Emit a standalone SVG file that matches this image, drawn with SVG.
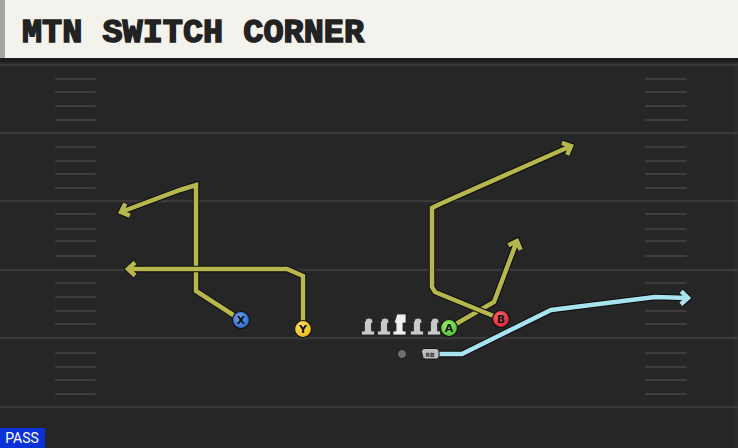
<svg xmlns="http://www.w3.org/2000/svg" width="738" height="448" viewBox="0 0 738 448">
<defs>
<style>
.fl{stroke:#393939;stroke-width:2.5}
.hs{stroke:#3e3e3e;stroke-width:2;stroke-linecap:round}
.ro{fill:none;stroke:#0d0d0d;stroke-width:6.5;stroke-linejoin:miter;stroke-linecap:butt}
.ry{fill:none;stroke:#b6b84e;stroke-width:4.5;stroke-linejoin:miter;stroke-linecap:butt}
.rb{fill:none;stroke:#a9e3ef;stroke-width:4.5;stroke-linejoin:miter;stroke-linecap:butt}
.pl{stroke:#111;stroke-width:1.2}
.pt{font-family:"DejaVu Sans",sans-serif;font-weight:bold;font-size:11px;fill:#111;text-anchor:middle}
.ln{fill:#c9c9c9;stroke:#222;stroke-width:0.8}
</style>
<marker id="mo" markerUnits="userSpaceOnUse" orient="auto" markerWidth="20" markerHeight="20" refX="0" refY="0" style="overflow:visible">
<path d="M-7,-6.5 L0,0 L-7,6.5" fill="none" stroke="#0d0d0d" stroke-width="6.5"/>
</marker>
<marker id="my" markerUnits="userSpaceOnUse" orient="auto" markerWidth="20" markerHeight="20" refX="0" refY="0" style="overflow:visible">
<path d="M-7,-6.5 L0,0 L-7,6.5" fill="none" stroke="#b6b84e" stroke-width="4.5"/>
</marker>
<marker id="mb" markerUnits="userSpaceOnUse" orient="auto" markerWidth="20" markerHeight="20" refX="0" refY="0" style="overflow:visible">
<path d="M-7,-6.5 L0,0 L-7,6.5" fill="none" stroke="#a9e3ef" stroke-width="4.5"/>
</marker>
<radialGradient id="gx" cx="0.4" cy="0.35" r="0.7"><stop offset="0" stop-color="#6aa2f0"/><stop offset="1" stop-color="#2f63c8"/></radialGradient>
<radialGradient id="gy" cx="0.4" cy="0.35" r="0.7"><stop offset="0" stop-color="#ffe066"/><stop offset="1" stop-color="#e8b810"/></radialGradient>
<radialGradient id="ga" cx="0.4" cy="0.35" r="0.7"><stop offset="0" stop-color="#9cf06a"/><stop offset="1" stop-color="#4cbf28"/></radialGradient>
<radialGradient id="gb" cx="0.4" cy="0.35" r="0.7"><stop offset="0" stop-color="#ff6a70"/><stop offset="1" stop-color="#d0202c"/></radialGradient>
</defs>

<g id="field">
<rect x="0" y="0" width="738" height="448" fill="#262626"/>
<rect x="735" y="58" width="3" height="390" fill="#2c2c2c"/>
<g class="fl">
<line x1="0" y1="65" x2="738" y2="65"/>
<line x1="0" y1="133" x2="738" y2="133"/>
<line x1="0" y1="201" x2="738" y2="201"/>
<line x1="0" y1="270" x2="738" y2="270"/>
<line x1="0" y1="338" x2="738" y2="338"/>
<line x1="0" y1="407" x2="738" y2="407"/>
</g>
<g class="hs">
<path d="M56,79H95M56,92H95M56,106H95M56,120H95M56,147H95M56,161H95M56,174H95M56,188H95M56,214H95M56,229H95M56,241H95M56,256H95M56,283H95M56,297H95M56,311H95M56,324H95M56,353H95M56,367H95M56,380H95M56,394H95"/>
<path d="M646,79H686M646,92H686M646,106H686M646,120H686M646,147H686M646,161H686M646,174H686M646,188H686M646,214H686M646,229H686M646,241H686M646,256H686M646,283H686M646,297H686M646,311H686M646,324H686M646,353H686M646,367H686M646,380H686M646,394H686"/>
</g>
</g>

<g id="header">
<rect x="0" y="0" width="738" height="58" fill="#f4f2ec"/>
<rect x="0" y="0" width="5" height="58" fill="#a4a4a2"/>
<rect x="0" y="58" width="738" height="4" fill="#1c1c1c"/>
<text x="22" y="42" font-family="'Liberation Mono', monospace" font-weight="bold" font-size="33" fill="#222" stroke="#222" stroke-width="1.5" stroke-linejoin="miter" textLength="342" lengthAdjust="spacingAndGlyphs">MTN SWITCH CORNER</text>
</g>

<g id="connectors">
<path class="ro" d="M241,320 L196,291 L196,185 L180,190 L121,212" marker-end="url(#mo)"/>
<path class="ry" d="M241,320 L196,291 L196,185 L180,190 L121,212" marker-end="url(#my)"/>
<path class="ro" d="M303,329 L303,276 L287,269 L128,269" marker-end="url(#mo)"/>
<path class="ry" d="M303,329 L303,276 L287,269 L128,269" marker-end="url(#my)"/>
<path class="ro" d="M449,328 L494,302 L517,241" marker-end="url(#mo)"/>
<path class="ry" d="M449,328 L494,302 L517,241" marker-end="url(#my)"/>
<path class="ro" d="M501,319 L435,292 L432,287 L432,208 L440,204 L571,146" marker-end="url(#mo)"/>
<path class="ry" d="M501,319 L435,292 L432,287 L432,208 L440,204 L571,146" marker-end="url(#my)"/>
<path class="ro" d="M436,354 L462,354 L551,310 L655,297 L688,298" marker-end="url(#mo)"/>
<path class="rb" d="M436,354 L462,354 L551,310 L655,297 L688,298" marker-end="url(#mb)"/>
</g>

<g id="line">
<g id="lt">
<path class="ln" d="M365,322 a4,4 0 0 1 8,0 v1 h-1.5 v8 h3 v4 h-13 v-4 h3 v-8 h-1.5 z"/>
</g>
<g id="lg">
<path class="ln" d="M381,322 a4,4 0 0 1 8,0 v1 h-1.5 v8 h3 v4 h-13 v-4 h3 v-8 h-1.5 z"/>
</g>
<g id="c">
<path class="ln" d="M397,314 h9 v9 h-3 v8 h3 v4 h-13 v-4 h3 v-8 h-2 z" style="fill:#eeeeee"/>
</g>
<g id="rg">
<path class="ln" d="M414,322 a4,4 0 0 1 8,0 v1 h-1.5 v8 h3 v4 h-13 v-4 h3 v-8 h-1.5 z"/>
</g>
<g id="rt">
<path class="ln" d="M431,322 a4,4 0 0 1 8,0 v1 h-1.5 v8 h3 v4 h-13 v-4 h3 v-8 h-1.5 z"/>
</g>
</g>

<g id="qb"><circle cx="402" cy="354" r="4.5" fill="#6e6e6e" stroke="#1a1a1a" stroke-width="1"/></g>
<g id="rb">
<path d="M424,348.5 h12 a3,3 0 0 1 3,3 v5 a2.5,2.5 0 0 1 -2.5,2.5 h-11 a3,3 0 0 1 -3,-3 l-1,-4.5 a3,3 0 0 1 2.5,-3 z" fill="#bdbdbd" stroke="#1a1a1a" stroke-width="1"/>
<text x="430" y="356.5" font-family="DejaVu Sans,sans-serif" font-weight="bold" font-size="6" fill="#333" text-anchor="middle">RB</text>
</g>

<g id="x"><circle cx="241" cy="320" r="8.5" fill="url(#gx)" class="pl"/><text x="241" y="324" class="pt">X</text></g>
<g id="y"><circle cx="303" cy="329" r="8.5" fill="url(#gy)" class="pl"/><text x="303" y="333" class="pt">Y</text></g>
<g id="a"><circle cx="449" cy="328" r="8.5" fill="url(#ga)" class="pl"/><text x="449" y="332" class="pt">A</text></g>
<g id="b"><circle cx="501" cy="319" r="8.5" fill="url(#gb)" class="pl"/><text x="501" y="323" class="pt">B</text></g>

<g id="tag">
<rect x="0" y="428" width="45" height="20" fill="#0a32d8"/>
<text x="22" y="443" font-family="Roboto,'DejaVu Sans',sans-serif" font-size="14" fill="#fff" text-anchor="middle">PASS</text>
</g>
</svg>
